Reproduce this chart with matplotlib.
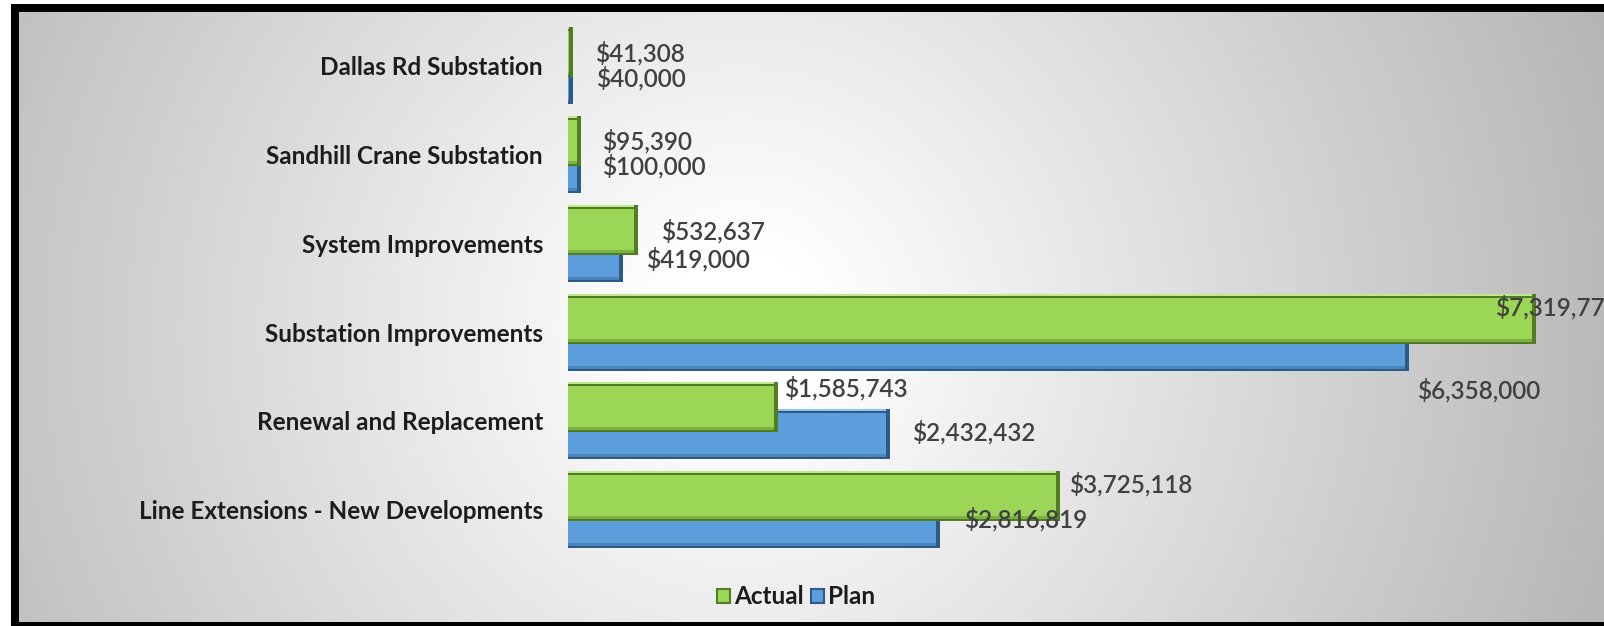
import numpy as np
import matplotlib.pyplot as plt
from matplotlib.patches import Patch

categories = [
    "Dallas Rd Substation",
    "Sandhill Crane Substation",
    "System Improvements",
    "Substation Improvements",
    "Renewal and Replacement",
    "Line Extensions - New Developments",
]
actual = [41308, 95390, 532637, 7319773, 1585743, 3725118]
plan = [40000, 100000, 419000, 6358000, 2432432, 2816819]

# hand-placed label nudges in pixels (right, down) from each bar end
actual_nudge = [(23, 1), (22, 0), (24, 1), (-40, -11), (7, -19), (10, -12)]
plan_nudge = [(24, -1), (22, -2), (24, 2), (9, 45), (23, -2), (25, -4)]

W, H, DPI = 1604, 626, 100
PX_X = 1 / 132.2e-6   # data units per pixel along x
PX_Y = 1 / 88.75      # category units per pixel along y

GREEN = dict(face="#9bd657", mid="#7cb242", dark="#527c24", light="#bfe88f")
BLUE = dict(face="#5b9edb", mid="#4a84bb", dark="#2c5b88", light="#8cc2f0")

plt.rcParams["font.family"] = ["Lato", "DejaVu Sans"]

fig = plt.figure(figsize=(W / DPI, H / DPI), dpi=DPI)

# grey radial wash with a black frame on top, left and bottom
bg = fig.add_axes([0, 0, 1, 1], zorder=-5)
yy, xx = np.mgrid[0:H, 0:W]
r = np.hypot(xx - 740, (yy - 330) * 1.0)
shade = 255 - 0.088 * np.clip(r - 80, 0, None)
img = np.repeat((shade / 255.0)[:, :, None], 3, axis=2)
img[:4, :] = 1.0
img[:, :11] = 1.0
img[4:12, 11:] = 0.0
img[4:, 11:19] = 0.0
img[622:, 11:] = 0.0
bg.imshow(img, extent=(0, W, H, 0), aspect="auto", interpolation="nearest")
bg.set_xlim(0, W)
bg.set_ylim(H, 0)
bg.axis("off")

x0, top, bottom = 568, 21.5, 554.0
ax = fig.add_axes([x0 / W, 1 - bottom / H, 1 - x0 / W, (bottom - top) / H])
ax.set_facecolor("none")

ypos = np.arange(len(categories))
bar_h = 0.563
off = 0.152


def bevel_barh(y, vals, pal, z):
    vals = np.asarray(vals, dtype=float)
    inner = np.maximum(vals - 4 * PX_X, 0)
    ax.barh(y, vals, height=bar_h, color=pal["dark"], zorder=z)
    ax.barh(y + 1.0 * PX_Y, inner, height=bar_h - 6 * PX_Y, color=pal["mid"], zorder=z)
    ax.barh(y - 0.5 * PX_Y, inner, height=bar_h - 9 * PX_Y, color=pal["face"], zorder=z)
    ax.barh(y - bar_h / 2 + 1 * PX_Y, inner, height=2 * PX_Y, color=pal["light"], zorder=z)


bevel_barh(ypos + off, plan, BLUE, 2)
bevel_barh(ypos - off, actual, GREEN, 3)

for i in range(len(categories)):
    for vals, nudge, dy in ((actual, actual_nudge, -off), (plan, plan_nudge, off)):
        v = vals[i]
        nx, ny = nudge[i]
        ax.annotate(f"${v:,.0f}", (v, i + dy), xytext=(nx, -ny),
                    textcoords="offset pixels", ha="left", va="center",
                    fontsize=17.5, fontweight="semibold", color="#404040",
                    zorder=5, annotation_clip=False)

ax.set_xlim(0, (W - x0) * PX_X)
ax.set_ylim(len(categories) - 0.5, -0.5)
ax.set_yticks(ypos)
ax.set_yticklabels(categories, fontsize=17.5, fontweight="bold", color="#1c1c1c")
ax.tick_params(axis="y", length=0, pad=18)
ax.set_xticks([])
for s in ax.spines.values():
    s.set_visible(False)

handles = [
    Patch(facecolor=GREEN["face"], edgecolor=GREEN["dark"], linewidth=1.5, label="Actual"),
    Patch(facecolor=BLUE["face"], edgecolor=BLUE["dark"], linewidth=1.5, label="Plan"),
]
fig.legend(handles=handles, loc="center", bbox_to_anchor=(796 / W, 1 - 597 / H),
           ncol=2, frameon=False, handlelength=0.55, handleheight=0.55,
           handletextpad=0.15, columnspacing=0.3, prop={"size": 17.5, "weight": "bold"},
           labelcolor="#1c1c1c")

fig.savefig("out.png", dpi=DPI)
